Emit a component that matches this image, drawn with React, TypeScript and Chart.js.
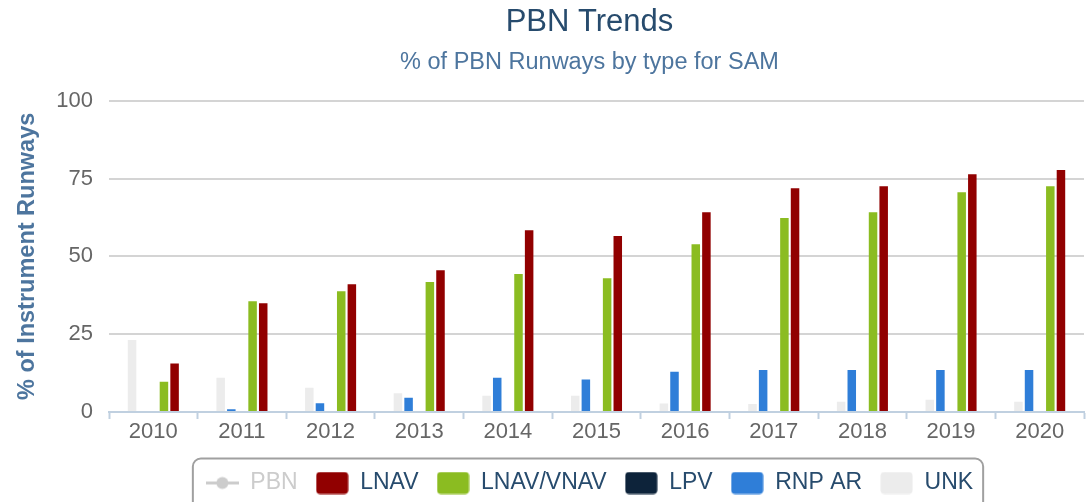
import React, { useEffect, useRef } from 'react';
import { Chart, registerables } from 'chart.js';

Chart.register(...registerables);

const categories = ['2010', '2011', '2012', '2013', '2014', '2015', '2016', '2017', '2018', '2019', '2020'];
const unkValues = [23.1, 11.0, 7.8, 6.0, 5.2, 5.2, 2.7, 2.6, 3.3, 3.9, 3.3];
const rnpArValues = [0, 0.9, 2.8, 4.6, 11.0, 10.4, 12.9, 13.5, 13.5, 13.5, 13.5];
const lpvValues = [0, 0, 0, 0, 0, 0, 0, 0, 0, 0, 0];
const lnavVnavValues = [9.7, 35.6, 38.8, 41.8, 44.3, 43.0, 53.9, 62.3, 64.2, 70.6, 72.5];
const lnavValues = [15.6, 34.9, 41.0, 45.5, 58.4, 56.5, 64.2, 71.9, 72.5, 76.4, 77.7];
const pbnValues: number[] = [];
const yTicks = [0, 25, 50, 75, 100];
const legendOrder = ['PBN', 'LNAV', 'LNAV/VNAV', 'LPV', 'RNP AR', 'UNK'];

const COLORS: Record<string, string> = {
  PBN: '#cccccc',
  LNAV: '#910000',
  'LNAV/VNAV': '#8bbc21',
  LPV: '#0d233a',
  'RNP AR': '#2f7ed8',
  UNK: '#ececec',
};

const FONT = "'Liberation Sans', Arial, Helvetica, sans-serif";

function roundedPath(ctx: CanvasRenderingContext2D, x: number, y: number, w: number, h: number, r: number) {
  ctx.beginPath();
  ctx.moveTo(x + r, y);
  ctx.lineTo(x + w - r, y);
  ctx.arcTo(x + w, y, x + w, y + r, r);
  ctx.lineTo(x + w, y + h - r);
  ctx.arcTo(x + w, y + h, x + w - r, y + h, r);
  ctx.lineTo(x + r, y + h);
  ctx.arcTo(x, y + h, x, y + h - r, r);
  ctx.lineTo(x, y + r);
  ctx.arcTo(x, y, x + r, y, r);
  ctx.closePath();
}

function makeBox(color: string) {
  const c = document.createElement('canvas');
  c.width = 33;
  c.height = 23;
  const ctx = c.getContext('2d')!;
  ctx.fillStyle = color;
  roundedPath(ctx, 0.5, 0.5, 32, 22, 4);
  ctx.fill();
  return c;
}

function makeLineMarker(color: string) {
  const c = document.createElement('canvas');
  c.width = 33;
  c.height = 23;
  const ctx = c.getContext('2d')!;
  ctx.strokeStyle = color;
  ctx.lineWidth = 3;
  ctx.beginPath();
  ctx.moveTo(0, 11.5);
  ctx.lineTo(33, 11.5);
  ctx.stroke();
  ctx.fillStyle = color;
  ctx.beginPath();
  ctx.arc(16.5, 11.5, 6, 0, Math.PI * 2);
  ctx.fill();
  return c;
}

export default function App() {
  const ref = useRef<HTMLCanvasElement>(null);

  useEffect(() => {
    if (!ref.current) return;
    Chart.defaults.font.family = FONT;
    const symbols: Record<string, HTMLCanvasElement> = {};
    legendOrder.forEach((n) => {
      symbols[n] = n === 'PBN' ? makeLineMarker(COLORS[n]) : makeBox(COLORS[n]);
    });

    const LEGEND_PAD = 18;

    const shiftPlugin = {
      id: 'shiftBoxes',
      afterUpdate(chart: any) {
        const targetCenter = 589.5;
        chart.boxes.forEach((b: any) => {
          if (b.axis) return;
          if (b.position === 'top' || b.position === 'bottom') {
            const dx = targetCenter - (b.left + b.right) / 2;
            b.left += dx;
            b.right += dx;
          }
        });
        const lg = chart.legend;
        if (lg) {
          lg.top += 2.5;
          lg.bottom += 2.5;
          if (lg.adjustHitBoxes) lg.adjustHitBoxes();
        }
      },
      afterDraw(chart: any) {
        const lg = chart.legend;
        if (!lg) return;
        const lineW = lg.lineWidths && lg.lineWidths.length ? lg.lineWidths[0] : 0;
        const startX = (lg.left + LEGEND_PAD + lg.right - lineW) / 2;
        const endX = startX + lineW - LEGEND_PAD;
        const itemTop = lg.top + LEGEND_PAD;
        const ctx = chart.ctx as CanvasRenderingContext2D;
        ctx.save();
        ctx.strokeStyle = '#a0a0a0';
        ctx.lineWidth = 2;
        roundedPath(ctx, startX - 13, itemTop - 13, endX - startX + 23, 70, 8);
        ctx.stroke();
        ctx.restore();
      },
    };

    const chart = new Chart(ref.current, {
      data: {
        labels: categories,
        datasets: [
          { type: 'bar', label: 'UNK', data: unkValues, backgroundColor: COLORS.UNK },
          { type: 'bar', label: 'RNP AR', data: rnpArValues, backgroundColor: COLORS['RNP AR'] },
          { type: 'bar', label: 'LPV', data: lpvValues, backgroundColor: COLORS.LPV },
          { type: 'bar', label: 'LNAV/VNAV', data: lnavVnavValues, backgroundColor: COLORS['LNAV/VNAV'] },
          { type: 'bar', label: 'LNAV', data: lnavValues, backgroundColor: COLORS.LNAV },
          { type: 'line', label: 'PBN', data: pbnValues, borderColor: COLORS.PBN, backgroundColor: COLORS.PBN, hidden: true },
        ] as any,
      },
      options: {
        responsive: false,
        animation: false,
        devicePixelRatio: 1,
        layout: { padding: { left: 0, right: 2, top: 0, bottom: 0 } },
        datasets: {
          bar: { categoryPercentage: 0.6, barPercentage: 0.8, borderWidth: 0 },
        } as any,
        scales: {
          x: {
            grid: {
              offset: true,
              drawOnChartArea: false,
              drawTicks: true,
              tickLength: 7,
              tickWidth: 2,
              tickColor: '#c0d0e0',
              color: '#c0d0e0',
            },
            border: { display: true, color: '#c0d0e0', width: 2 },
            ticks: { color: '#666666', font: { size: 22 }, padding: 0, maxRotation: 0 },
            afterFit: (scale: any) => {
              scale.height = 39;
            },
          },
          y: {
            min: 0,
            max: 100,
            afterBuildTicks: (scale: any) => {
              scale.ticks = yTicks.map((v) => ({ value: v }));
            },
            grid: {
              drawTicks: false,
              lineWidth: 2,
              color: (ctx: any) => (ctx.tick && ctx.tick.value === 0 ? 'rgba(0,0,0,0)' : '#d4d4d4'),
            },
            border: { display: false },
            ticks: { color: '#666666', font: { size: 22 }, padding: 16 },
            title: {
              display: true,
              text: '% of Instrument Runways',
              color: '#4d759e',
              font: { size: 23.5, weight: 'bold' },
              padding: { top: 13, bottom: 0 },
            },
            afterFit: (scale: any) => {
              scale.width = 109;
            },
          },
        },
        plugins: {
          title: {
            display: true,
            text: 'PBN Trends',
            color: '#274b6d',
            font: { size: 31, weight: 'normal' },
            padding: { top: 4, bottom: 7.7 },
          },
          subtitle: {
            display: true,
            text: '% of PBN Runways by type for SAM',
            color: '#4d759e',
            font: { size: 23.5, weight: 'normal' },
            padding: { top: 0, bottom: 23.6 },
          },
          legend: {
            display: true,
            position: 'bottom',
            onClick: () => {},
            labels: {
              usePointStyle: true,
              pointStyleWidth: 33,
              boxHeight: 22,
              padding: LEGEND_PAD,
              color: '#274b6d',
              font: { size: 23 },
              generateLabels: () =>
                legendOrder.map((name) => ({
                  text: name,
                  pointStyle: symbols[name],
                  fillStyle: COLORS[name],
                  strokeStyle: 'rgba(0,0,0,0)',
                  lineWidth: 0,
                  hidden: false,
                  fontColor: name === 'PBN' ? '#cccccc' : '#274b6d',
                })) as any,
            },
          },
          tooltip: { enabled: false },
        },
      } as any,
      plugins: [shiftPlugin as any],
    });

    return () => chart.destroy();
  }, []);

  return (
    <div style={{ position: 'absolute', left: 0, top: 0, width: 1086, height: 502, background: '#ffffff' }}>
      <canvas ref={ref} width={1086} height={502} style={{ display: 'block' }} />
    </div>
  );
}
